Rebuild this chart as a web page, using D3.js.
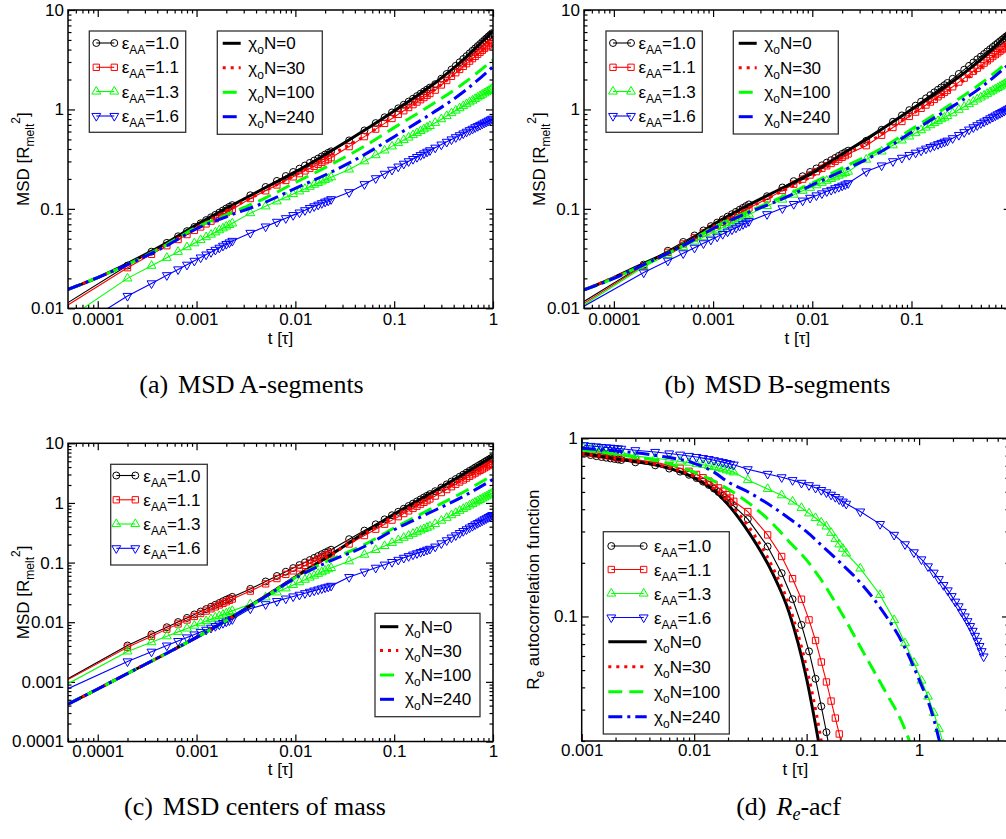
<!DOCTYPE html>
<html><head><meta charset="utf-8">
<script src="https://cdnjs.cloudflare.com/ajax/libs/d3/7.8.5/d3.min.js"></script>
<style>
body{margin:0;background:#fff;}
svg{display:block;}
</style></head><body>
<svg id="fig" width="1006" height="839"></svg>
<script>
// ---------------- DATA ----------------
// common time grid of the MSD panels (a)-(c), in units of tau
const tGrid = [0.00005,
 0.0002,0.00035,0.0005,0.00065,0.0008,0.00095,0.0011,0.00125,0.0014,0.00155,0.0017,0.00185,0.002,0.00215,0.0023,
 0.0035,0.005,0.0065,0.008,0.0095,0.011,0.0125,0.014,0.0155,0.017,0.0185,0.02,0.0215,0.023,
 0.035,0.05,0.065,0.08,0.095,0.11,0.125,0.14,0.155,0.17,0.185,0.2,0.215,0.23,
 0.26,0.3,0.34,0.38,0.42,0.46,0.5,0.54,0.58,0.62,0.66,0.7,0.74,0.78,0.82,0.86,0.9,0.94,0.98];

const epsLabels = ["1.0","1.1","1.3","1.6"];
const chiLabels = ["0","30","100","240"];

// (a) MSD A-segments
const msdA_e10 = [0.0114, 0.0269,0.0371,0.0455,0.0530,0.0597,0.0659,0.0716,0.0771,0.0822,0.0871,0.0918,0.0964,0.101,0.105,0.109, 0.137,0.166,0.191,0.214,0.235,0.254,0.273,0.290,0.306,0.321,0.337,0.352,0.366,0.379, 0.488,0.615,0.729,0.834,0.933,1.026,1.114,1.199,1.282,1.361,1.439,1.514,1.585,1.660, 1.795,2.037,2.275,2.518,2.748,2.985,3.214,3.436,3.664,3.890,4.111,4.335,4.550,4.775,4.989,5.200,5.420,5.636,5.848];
const msdA_e11 = [0.0108, 0.0256,0.0349,0.0426,0.0492,0.0552,0.0607,0.0658,0.0706,0.0752,0.0796,0.0838,0.0877,0.0916,0.0953,0.0991, 0.127,0.152,0.174,0.193,0.210,0.226,0.241,0.255,0.268,0.281,0.293,0.305,0.316,0.327, 0.423,0.533,0.634,0.724,0.811,0.893,0.970,1.045,1.117,1.186,1.253,1.318,1.384,1.445, 1.563,1.762,1.954,2.153,2.339,2.523,2.710,2.884,3.062,3.243,3.420,3.589,3.758,3.936,4.102,4.266,4.436,4.603,4.764];
const msdA_e13 = [0.0079, 0.0200,0.0268,0.0322,0.0370,0.0412,0.0451,0.0486,0.0520,0.0551,0.0581,0.0610,0.0637,0.0664,0.0689,0.0715, 0.0906,0.106,0.119,0.131,0.141,0.150,0.159,0.167,0.175,0.182,0.189,0.196,0.202,0.208, 0.249,0.301,0.347,0.387,0.425,0.459,0.492,0.522,0.552,0.579,0.607,0.632,0.658,0.682, 0.733,0.798,0.859,0.918,0.975,1.030,1.081,1.132,1.180,1.227,1.276,1.321,1.365,1.409,1.452,1.493,1.535,1.574,1.614];
const msdA_e16 = [0.0056, 0.0133,0.0178,0.0215,0.0246,0.0274,0.0300,0.0324,0.0347,0.0367,0.0387,0.0406,0.0425,0.0443,0.0459,0.0476, 0.0573,0.0664,0.0740,0.0805,0.0865,0.0918,0.0968,0.102,0.106,0.110,0.114,0.118,0.121,0.125, 0.147,0.177,0.203,0.225,0.247,0.266,0.284,0.301,0.317,0.332,0.347,0.361,0.375,0.388, 0.412,0.443,0.472,0.499,0.525,0.550,0.573,0.596,0.618,0.638,0.661,0.679,0.698,0.718,0.736,0.753,0.771,0.789,0.805];

// (b) MSD B-segments
const msdB_e10 = [0.0117, 0.0275,0.0379,0.0465,0.0540,0.0607,0.0670,0.0728,0.0783,0.0836,0.0885,0.0933,0.0980,0.1023,0.1067,0.1109, 0.134,0.164,0.190,0.213,0.235,0.255,0.274,0.292,0.309,0.325,0.341,0.357,0.371,0.385, 0.484,0.624,0.752,0.871,0.984,1.091,1.197,1.294,1.393,1.486,1.578,1.667,1.754,1.845, 2.032,2.275,2.512,2.742,2.965,3.192,3.404,3.614,3.828,4.036,4.246,4.446,4.645,4.842,5.035,5.224,5.420,5.610,5.794];
const msdB_e11 = [0.0112, 0.0269,0.0365,0.0444,0.0512,0.0573,0.0630,0.0682,0.0731,0.0778,0.0822,0.0865,0.0906,0.0946,0.0984,0.1021, 0.126,0.153,0.177,0.199,0.219,0.237,0.255,0.271,0.286,0.301,0.316,0.330,0.343,0.357, 0.432,0.550,0.658,0.757,0.851,0.940,1.026,1.107,1.186,1.262,1.340,1.413,1.483,1.552, 1.690,1.884,2.065,2.249,2.421,2.594,2.761,2.924,3.083,3.243,3.404,3.556,3.707,3.855,3.999,4.140,4.285,4.436,4.571];
const msdB_e13 = [0.0108, 0.0262,0.0346,0.0413,0.0470,0.0520,0.0566,0.0610,0.0649,0.0686,0.0721,0.0755,0.0787,0.0818,0.0847,0.0877, 0.107,0.124,0.139,0.152,0.163,0.173,0.183,0.192,0.200,0.208,0.216,0.223,0.230,0.237, 0.313,0.378,0.436,0.488,0.535,0.578,0.619,0.658,0.695,0.730,0.764,0.798,0.828,0.859, 0.916,0.993,1.064,1.132,1.197,1.262,1.321,1.380,1.435,1.489,1.545,1.596,1.644,1.694,1.742,1.791,1.837,1.879,1.928];
const msdB_e16 = [0.0105, 0.0229,0.0301,0.0357,0.0406,0.0450,0.0489,0.0525,0.0558,0.0590,0.0619,0.0647,0.0675,0.0701,0.0726,0.0752, 0.0883,0.1012,0.1117,0.121,0.129,0.1365,0.143,0.150,0.155,0.161,0.166,0.171,0.176,0.181, 0.238,0.273,0.301,0.326,0.348,0.367,0.385,0.403,0.418,0.433,0.447,0.460,0.473,0.485, 0.513,0.553,0.590,0.627,0.661,0.693,0.726,0.755,0.783,0.813,0.841,0.867,0.893,0.918,0.942,0.966,0.991,1.014,1.035];

// (c) MSD centers of mass
const msdC_e10 = [0.00113, 0.00407,0.00627,0.00824,0.01007,0.0118,0.0135,0.0151,0.0166,0.0182,0.0196,0.0210,0.0225,0.0239,0.0252,0.0266, 0.0362,0.0482,0.0596,0.0703,0.0809,0.0908,0.1007,0.1102,0.1197,0.1288,0.1380,0.1469,0.1556,0.1644, 0.247,0.344,0.438,0.530,0.622,0.711,0.800,0.889,0.975,1.062,1.148,1.236,1.318,1.406, 1.574,1.811,2.046,2.286,2.518,2.754,2.985,3.221,3.451,3.681,3.926,4.150,4.385,4.613,4.853,5.082,5.309,5.546,5.768];
const msdC_e11 = [0.00109, 0.00380,0.00582,0.00766,0.00935,0.0109,0.0125,0.0140,0.0154,0.0168,0.0181,0.0195,0.0207,0.0220,0.0233,0.0245, 0.0333,0.0440,0.0540,0.0634,0.0726,0.0813,0.0897,0.0982,0.1062,0.114,0.122,0.129,0.137,0.145, 0.205,0.284,0.363,0.440,0.515,0.589,0.664,0.736,0.809,0.881,0.953,1.023,1.094,1.167, 1.303,1.493,1.679,1.871,2.056,2.244,2.427,2.606,2.793,2.972,3.162,3.342,3.516,3.698,3.882,4.055,4.236,4.416,4.592];
const msdC_e13 = [0.00093, 0.00324,0.00463,0.00582,0.00689,0.00785,0.00877,0.00964,0.01045,0.01125,0.0120,0.0127,0.0134,0.0141,0.0148,0.0155, 0.0200,0.0261,0.0317,0.0370,0.0421,0.0469,0.0516,0.0561,0.0605,0.0649,0.0690,0.0733,0.0773,0.0813, 0.105,0.136,0.163,0.190,0.214,0.238,0.261,0.282,0.304,0.324,0.345,0.365,0.384,0.404, 0.445,0.505,0.564,0.624,0.681,0.740,0.796,0.851,0.908,0.964,1.019,1.074,1.127,1.183,1.236,1.288,1.343,1.396,1.449];
const msdC_e16 = [0.00077, 0.00220,0.00320,0.00406,0.00483,0.00555,0.00622,0.00686,0.00746,0.00805,0.00861,0.00916,0.00968,0.01021,0.01072,0.01122, 0.0169,0.0200,0.0226,0.0249,0.0270,0.0288,0.0306,0.0323,0.0339,0.0353,0.0368,0.0382,0.0394,0.0407, 0.0571,0.0703,0.0818,0.0923,0.102,0.111,0.120,0.128,0.136,0.143,0.150,0.157,0.164,0.170, 0.185,0.210,0.236,0.262,0.286,0.312,0.337,0.361,0.386,0.410,0.436,0.459,0.483,0.507,0.531,0.553,0.578,0.601,0.625];

// chi_o N series (lines only) for panels (a)-(c)
const tChi = [0.00005,0.0001,0.0002,0.0005,0.001,0.002,0.005,0.01,0.02,0.05,0.1,0.2,0.5,1];
const msdA_x0   = [0.0155,0.0204,0.0282,0.0457,0.0692,0.101,0.164,0.234,0.351,0.617,0.966,1.53,3.16,6.17];
const msdA_x30  = [0.0155,0.0204,0.0275,0.0437,0.0646,0.0955,0.153,0.219,0.324,0.537,0.851,1.318,2.692,5.012];
const msdA_x100 = [0.0155,0.0204,0.0275,0.0437,0.0653,0.0871,0.129,0.184,0.260,0.427,0.656,1.0,1.82,3.14];
const msdA_x240 = [0.0155,0.0204,0.0275,0.0427,0.0631,0.0832,0.117,0.161,0.219,0.351,0.532,0.813,1.496,2.692];
const msdB_x0   = [0.0153,0.0204,0.0282,0.0437,0.0692,0.102,0.162,0.229,0.355,0.631,1.0,1.585,3.162,6.166];
const msdB_x30  = [0.0153,0.0204,0.0275,0.0427,0.0661,0.0955,0.151,0.214,0.331,0.562,0.891,1.380,2.630,5.012];
const msdB_x100 = [0.0153,0.0200,0.0275,0.0427,0.0646,0.0891,0.132,0.182,0.257,0.407,0.631,0.977,1.820,3.162];
const msdB_x240 = [0.0153,0.0200,0.0275,0.0427,0.0631,0.0871,0.126,0.174,0.240,0.380,0.589,0.912,1.660,2.951];
const msdC_x0   = [0.000422,0.000759,0.00138,0.00302,0.00556,0.0107,0.0275,0.0575,0.117,0.316,0.650,1.245,3.02,6.03];
const msdC_x30  = [0.000422,0.000759,0.00138,0.00302,0.00556,0.0107,0.0275,0.0575,0.117,0.302,0.603,1.122,2.512,4.677];
const msdC_x100 = [0.000422,0.000759,0.00138,0.00302,0.00556,0.0107,0.0269,0.0562,0.102,0.200,0.380,0.692,1.514,2.938];
const msdC_x240 = [0.000422,0.000759,0.00138,0.00302,0.00556,0.0107,0.0269,0.0550,0.0977,0.186,0.355,0.617,1.288,2.483];

// (d) R_e autocorrelation function
const tAcf = [0.00105,0.0012,0.00135,0.0015,0.00165,0.0018,0.00195,0.0021,0.00225,
 0.003,0.0045,0.006,0.0075,0.009,0.0105,0.012,0.0135,0.015,0.0165,0.018,0.0195,0.021,0.0225,
 0.03,0.045,0.06,0.075,0.09,0.105,0.12,0.135,0.15,0.165,0.18,0.195,0.21,0.225,
 0.3,0.45,0.6,0.75,0.9,1.05,1.2,1.35,1.5,1.65,1.8,1.95,2.1,2.25,2.4,2.55,2.7,2.85,3.0,3.15,3.3,3.45,3.6,3.75];
const acf_e10 = [0.818,0.805,0.794,0.785,0.778,0.771,0.766,0.760,0.755, 0.733,0.705,0.676,0.650,0.624,0.598,0.571,0.547,0.522,0.499,0.476,0.455,0.435,0.417, 0.352,0.247,0.175,0.125,0.0897,0.0637,0.0447,0.0313,0.0224,0.0158];
const acf_e11 = [0.838,0.826,0.815,0.807,0.800,0.792,0.785,0.780,0.774, 0.759,0.733,0.705,0.679,0.653,0.627,0.601,0.575,0.551,0.527,0.505,0.483,0.462,0.443, 0.388,0.287,0.217,0.163,0.125,0.0957,0.0733,0.0555,0.0429,0.0335,0.0269,0.0219,0.0174];
const acf_e13 = [0.887,0.877,0.869,0.861,0.855,0.849,0.843,0.838,0.832, 0.794,0.773,0.755,0.741,0.730,0.719,0.710,0.700,0.690,0.681,0.671,0.662,0.653,0.644, 0.583,0.520,0.479,0.442,0.407,0.379,0.357,0.337,0.320,0.295,0.272,0.254,0.240,0.226, 0.186,0.132,0.0955,0.0708,0.055,0.0437,0.0355,0.0288,0.0234,0.0191];
const acf_e16 = [0.914,0.906,0.900,0.893,0.889,0.885,0.881,0.877,0.873, 0.857,0.838,0.822,0.809,0.796,0.785,0.774,0.764,0.753,0.743,0.735,0.726,0.718,0.711, 0.670,0.631,0.604,0.582,0.562,0.545,0.527,0.512,0.497,0.482,0.468,0.454,0.441,0.429, 0.388,0.330,0.287,0.254,0.229,0.209,0.191,0.176,0.162,0.150,0.140,0.130,0.121,0.114,0.106,0.100,0.094,0.0883,0.0830,0.0778,0.0729,0.0682,0.0638,0.0596];
const tAcfChi = [0.001,0.002,0.005,0.01,0.015,0.02,0.03,0.05,0.07,0.1,0.13,0.2,0.3,0.5,0.7,1.0,1.3,1.6];
const acf_x0   = [0.824,0.767,0.70,0.60,0.51,0.425,0.302,0.174,0.105,0.0447,0.0186];
const acf_x30  = [0.824,0.771,0.705,0.61,0.52,0.44,0.324,0.188,0.115,0.0513,0.0229,0.0033];
const acf_x100 = [0.86,0.813,0.741,0.646,0.575,0.519,0.437,0.331,0.263,0.207,0.166,0.107,0.0676,0.038,0.0257,0.0141];
const acf_x240 = [0.88,0.851,0.794,0.724,0.646,0.569,0.501,0.412,0.355,0.299,0.257,0.20,0.155,0.102,0.0724,0.0442,0.0288,0.0174];

// tick labels (only the ticks that fall inside the visible page are labelled)
const xTicksMSD = [0.0001,0.001,0.01,0.1,1];
const xLabelsMSD = ["0.0001","0.001","0.01","0.1","1"];
const xTicksB = [0.0001,0.001,0.01,0.1];
const xLabelsB = ["0.0001","0.001","0.01","0.1"];
const yTicksAB = [0.01,0.1,1,10];
const yLabelsAB = ["0.01","0.1","1","10"];
const yTicksC = [0.0001,0.001,0.01,0.1,1,10];
const yLabelsC = ["0.0001","0.001","0.01","0.1","1","10"];
const xTicksD = [0.001,0.01,0.1,1];
const xLabelsD = ["0.001","0.01","0.1","1"];
const yTicksD = [0.1,1];
const yLabelsD = ["0.1","1"];

// ---------------- STYLE ----------------
const FONT = "'Liberation Sans', Arial, Helvetica, sans-serif";
const SERIF = "'Liberation Serif', 'Times New Roman', serif";
const COLORS = ["#000000","#ff0000","#00ff00","#0000ff"];
const MARKERS = ["circle","square","triangle","triangleDown"];
const CHI_DASH = [null,"3,5","14,7","14,5,3,5"];
const FS = 17, FSS = 12;

const svg = d3.select("#fig");
svg.append("rect").attr("width",1006).attr("height",839).attr("fill","#fff");
const defs = svg.append("defs");

function markerPath(kind){
  if(kind==="circle") return d3.symbol().type(d3.symbolCircle).size(38)();
  if(kind==="square") return d3.symbol().type(d3.symbolSquare).size(40)();
  return d3.symbol().type(d3.symbolTriangle).size(34)();
}
function drawMarker(g, kind, cx, cy, color){
  g.append("path").attr("d", markerPath(kind))
    .attr("transform", `translate(${cx},${cy})` + (kind==="triangleDown" ? " rotate(180)" : ""))
    .attr("fill","none").attr("stroke",color).attr("stroke-width",1);
}
function minorTicks(dom){
  const out=[]; const lo=Math.floor(Math.log10(dom[0])), hi=Math.ceil(Math.log10(dom[1]));
  for(let e=lo;e<=hi;e++) for(let k=2;k<=9;k++){ const v=+(k+"e"+e); if(v>=dom[0]*0.9999 && v<=dom[1]*1.0001) out.push(v); }
  return out;
}
function styleAxis(s){
  s.select(".domain").remove();
  s.selectAll("line").attr("stroke","#000").attr("stroke-width",1.2);
  s.selectAll("text").attr("font-size",FS).attr("font-family",FONT).attr("fill","#000");
}

function panel(P){
  const g = svg.append("g");
  const x = d3.scaleLog().domain(P.xDomain).range([P.left,P.right]);
  const y = d3.scaleLog().domain(P.yDomain).range([P.bottom,P.top]);
  const id = "clip"+P.name;
  defs.append("clipPath").attr("id",id).append("rect")
    .attr("x",P.left).attr("y",P.top).attr("width",P.right-P.left).attr("height",P.bottom-P.top);
  const mx = minorTicks(P.xDomain), my = minorTicks(P.yDomain);
  // axes (inward ticks on all four sides)
  g.append("g").attr("transform",`translate(0,${P.bottom})`)
    .call(d3.axisBottom(x).tickValues(P.xTicks).tickFormat((d,i)=>P.xLabels[i]).tickSizeInner(-7).tickSizeOuter(0).tickPadding(P.xPad)).call(styleAxis);
  g.append("g").attr("transform",`translate(0,${P.bottom})`)
    .call(d3.axisBottom(x).tickValues(mx).tickFormat(()=>"").tickSizeInner(-3.5).tickSizeOuter(0)).call(styleAxis);
  g.append("g").attr("transform",`translate(0,${P.top})`)
    .call(d3.axisTop(x).tickValues(P.xTicks).tickFormat(()=>"").tickSizeInner(-7).tickSizeOuter(0)).call(styleAxis);
  g.append("g").attr("transform",`translate(0,${P.top})`)
    .call(d3.axisTop(x).tickValues(mx).tickFormat(()=>"").tickSizeInner(-3.5).tickSizeOuter(0)).call(styleAxis);
  g.append("g").attr("transform",`translate(${P.left},0)`)
    .call(d3.axisLeft(y).tickValues(P.yTicks).tickFormat((d,i)=>P.yLabels[i]).tickSizeInner(-7).tickSizeOuter(0).tickPadding(4)).call(styleAxis);
  g.append("g").attr("transform",`translate(${P.left},0)`)
    .call(d3.axisLeft(y).tickValues(my).tickFormat(()=>"").tickSizeInner(-3.5).tickSizeOuter(0)).call(styleAxis);
  g.append("g").attr("transform",`translate(${P.right},0)`)
    .call(d3.axisRight(y).tickValues(P.yTicks).tickFormat(()=>"").tickSizeInner(-7).tickSizeOuter(0)).call(styleAxis);
  g.append("g").attr("transform",`translate(${P.right},0)`)
    .call(d3.axisRight(y).tickValues(my).tickFormat(()=>"").tickSizeInner(-3.5).tickSizeOuter(0)).call(styleAxis);

  const plot = g.append("g").attr("clip-path",`url(#${id})`);
  const lineStraight = d3.line().x(d=>x(d[0])).y(d=>y(d[1]));
  const lineSmooth = d3.line().x(d=>x(d[0])).y(d=>y(d[1])).curve(d3.curveMonotoneX);
  // epsilon_AA series: thin line + open symbols
  P.eps.forEach((vals,i)=>{
    const pts = vals.map((v,k)=>[P.tEps[k],v]);
    plot.append("path").attr("d",lineStraight(pts)).attr("fill","none")
      .attr("stroke",COLORS[i]).attr("stroke-width",1.1);
    const mg = plot.append("g");
    pts.forEach((p,k)=>{ if(k < P.markFrom) return; drawMarker(mg, MARKERS[i], x(p[0]), y(p[1]), COLORS[i]); });
  });
  // chi_o N series: thick styled lines
  P.chi.forEach((vals,i)=>{
    const pts = vals.map((v,k)=>[P.tChi[k],v]);
    const p = plot.append("path").attr("d",lineSmooth(pts)).attr("fill","none")
      .attr("stroke",COLORS[i]).attr("stroke-width",3);
    if(CHI_DASH[i]) p.attr("stroke-dasharray",CHI_DASH[i]);
  });
  // frame
  g.append("rect").attr("x",P.left).attr("y",P.top).attr("width",P.right-P.left).attr("height",P.bottom-P.top)
    .attr("fill","none").attr("stroke","#000").attr("stroke-width",1.5);

  // x label
  g.append("text").attr("x",(P.left+P.right)/2).attr("y",P.xLabelY)
    .attr("text-anchor","middle").attr("font-family",FONT).attr("font-size",FS).text("t [τ]");
  // y label
  const yl = g.append("text").attr("transform",`translate(${P.yLabelX},${(P.top+P.bottom)/2}) rotate(-90)`)
    .attr("text-anchor","middle").attr("font-family",FONT).attr("font-size",FS);
  P.yLabel(yl);

  // legends
  P.legends.forEach(L=>{
    const lg = g.append("g");
    lg.append("rect").attr("x",L.box[0]).attr("y",L.box[1]).attr("width",L.box[2]-L.box[0]).attr("height",L.box[3]-L.box[1])
      .attr("fill","#fff").attr("stroke","#333").attr("stroke-width",1.3);
    L.items.forEach((it,j)=>{
      const yy = L.rows[j];
      const c = COLORS[it.idx];
      if(it.kind==="eps"){
        lg.append("line").attr("x1",L.lx[0]+3).attr("x2",L.lx[1]-3).attr("y1",yy).attr("y2",yy).attr("stroke",c).attr("stroke-width",1.1);
        drawMarker(lg, MARKERS[it.idx], L.lx[0]+3, yy, c);
        drawMarker(lg, MARKERS[it.idx], L.lx[1]-3, yy, c);
      } else {
        const ln = lg.append("line").attr("x1",L.lx[0]).attr("x2",L.lx[1]).attr("y1",yy).attr("y2",yy).attr("stroke",c).attr("stroke-width",3);
        if(CHI_DASH[it.idx]) ln.attr("stroke-dasharray",CHI_DASH[it.idx]);
      }
      const t = lg.append("text").attr("x",L.tx).attr("y",yy+6).attr("font-family",FONT).attr("font-size",FS);
      if(it.kind==="eps"){
        t.append("tspan").text("ε");
        t.append("tspan").attr("font-size",FSS).attr("dy",5).text("AA");
        t.append("tspan").attr("dy",-5).text("="+epsLabels[it.idx]);
      } else {
        t.append("tspan").text("χ");
        t.append("tspan").attr("font-size",FSS).attr("dy",5).text("o");
        t.append("tspan").attr("dy",-5).text("N="+chiLabels[it.idx]);
      }
    });
  });

  // caption
  const cap = g.append("text").attr("x",P.capX).attr("y",P.capY).attr("text-anchor","middle")
    .attr("font-family",SERIF).attr("font-size",26);
  P.caption(cap);
}

function msdLabel(t){
  t.append("tspan").text("MSD [R");
  t.append("tspan").attr("font-size",FSS).attr("dy",5).text("melt");
  t.append("tspan").attr("font-size",FSS).attr("dy",-14).text("2");
  t.append("tspan").attr("dy",9).text("]");
}
const epsItems = [0,1,2,3].map(i=>({kind:"eps",idx:i}));
const chiItems = [0,1,2,3].map(i=>({kind:"chi",idx:i}));
function simpleCap(letter, rest){ return t=>{ t.append("tspan").text("("+letter+")"); t.append("tspan").attr("dx",10).text(rest); }; }

panel({name:"a", left:68, top:10, right:493, bottom:308.3,
  xDomain:[0.00005,1], yDomain:[0.01,10],
  xTicks:xTicksMSD, xLabels:xLabelsMSD, xPad:4.5, yTicks:yTicksAB, yLabels:yLabelsAB,
  tEps:tGrid, eps:[msdA_e10,msdA_e11,msdA_e13,msdA_e16], markFrom:1,
  tChi:tChi, chi:[msdA_x0,msdA_x30,msdA_x100,msdA_x240],
  xLabelY:343.5, yLabelX:28.5, yLabel:msdLabel,
  legends:[
    {box:[89.3,31,185.7,132.3], rows:[43,67.3,91.5,116], lx:[93.3,117.3], tx:121.7, items:epsItems},
    {box:[217.3,31,322.3,134.3], rows:[43.3,67.7,92.3,116.7], lx:[222.7,240.7], tx:248.3, items:chiItems}],
  capX:251.5, capY:393, caption:simpleCap("a","MSD A-segments")});

panel({name:"b", left:584, top:10, right:1010.7, bottom:308.3,
  xDomain:[0.00005,1], yDomain:[0.01,10],
  xTicks:xTicksB, xLabels:xLabelsB, xPad:4.5, yTicks:yTicksAB, yLabels:yLabelsAB,
  tEps:tGrid, eps:[msdB_e10,msdB_e11,msdB_e13,msdB_e16], markFrom:1,
  tChi:tChi, chi:[msdB_x0,msdB_x30,msdB_x100,msdB_x240],
  xLabelY:343.5, yLabelX:544.5, yLabel:msdLabel,
  legends:[
    {box:[606,31,702.3,132.3], rows:[43,67.3,91.5,116], lx:[610,634], tx:638.5, items:epsItems},
    {box:[733.3,31,838.3,134], rows:[43.3,67.7,92.3,116.7], lx:[738.7,756.7], tx:764.3, items:chiItems}],
  capX:777.5, capY:393, caption:simpleCap("b","MSD B-segments")});

panel({name:"c", left:68, top:443.3, right:493, bottom:741.5,
  xDomain:[0.00005,1], yDomain:[0.0001,10],
  xTicks:xTicksMSD, xLabels:xLabelsMSD, xPad:3.3, yTicks:yTicksC, yLabels:yLabelsC,
  tEps:tGrid, eps:[msdC_e10,msdC_e11,msdC_e13,msdC_e16], markFrom:1,
  tChi:tChi, chi:[msdC_x0,msdC_x30,msdC_x100,msdC_x240],
  xLabelY:775, yLabelX:28.5, yLabel:msdLabel,
  legends:[
    {box:[110.7,464.3,207.3,565], rows:[475.5,499.8,524,548.3], lx:[113.3,138.3], tx:143.3, items:epsItems},
    {box:[375,613.3,480,716.7], rows:[626.7,650.5,675,699.3], lx:[380,398.3], tx:405, items:chiItems}],
  capX:255, capY:815, caption:simpleCap("c","MSD centers of mass")});

panel({name:"d", left:581.7, top:438.3, right:1009, bottom:741,
  xDomain:[0.001,6.3], yDomain:[0.02,1],
  xTicks:xTicksD, xLabels:xLabelsD, xPad:3.3, yTicks:yTicksD, yLabels:yLabelsD,
  tEps:tAcf, eps:[acf_e10,acf_e11,acf_e13,acf_e16], markFrom:0,
  tChi:tAcfChi, chi:[acf_x0,acf_x30,acf_x100,acf_x240],
  xLabelY:775, yLabelX:538.5,
  yLabel:t=>{ t.append("tspan").text("R"); t.append("tspan").attr("font-size",FSS).attr("dy",5).text("e");
              t.append("tspan").attr("dy",-5).text(" autocorrelation function"); },
  legends:[
    {box:[603.3,531.7,729.3,734], rows:[546,569.5,593.5,617.5,641.7,666.7,691.7,716.7], lx:[608.3,646.7], tx:654,
     items:epsItems.concat(chiItems)}],
  capX:788.5, capY:815,
  caption:t=>{ t.append("tspan").text("(d)"); t.append("tspan").attr("dx",10).attr("font-style","italic").text("R");
               t.append("tspan").attr("font-style","italic").attr("font-size",18).attr("dy",5).text("e");
               t.append("tspan").attr("dy",-5).text("-acf"); }});
</script>
</body></html>
